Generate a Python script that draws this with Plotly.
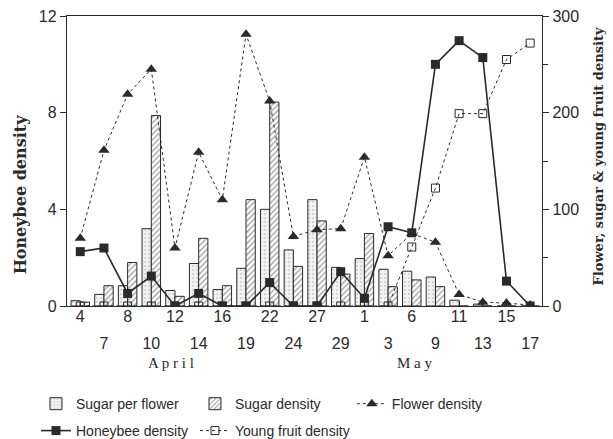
import plotly.graph_objects as go

# dates sampled (April 4 .. May 17)
dates = ["4", "7", "8", "10", "12", "14", "16", "19", "22", "24", "27", "29",
         "1", "3", "6", "9", "11", "13", "15", "17"]

# right axis units (0-300)
sugar_per_flower = [5.5, 12, 21, 80, 16, 44, 17, 39, 100, 58, 110, 40,
                    49, 38, 36, 30, 6, 2, 0, 0]
sugar_density = [4, 21, 45, 197, 10, 70, 21, 110, 211, 41, 88, 33,
                 75, 20, 27, 20, 0, 0, 0, 0]
flower_density = [70, 161, 219, 245, 60, 159, 110, 281, 212, 72, 79, 80,
                  154, 52, 75, 66, 12, 4, 3, 1]
young_fruit = [0, 0, 0, 0, 0, 0, 0, 0, 0, 0, 0, 0,
               0, 0, 61, 122, 199, 199, 255, 272]
# left axis units (0-12)
honeybee = [2.25, 2.4, 0.52, 1.24, 0, 0.52, 0, 0, 0.97, 0, 0, 1.42,
            0.32, 3.28, 3.03, 10.0, 10.98, 10.28, 1.03, 0]

# two rows of date labels: even positions on top row, odd on the lower one
idx = list(range(len(dates)))
row1 = [d if i % 2 == 0 else "" for i, d in enumerate(dates)]
row2 = [d if i % 2 == 1 else "" for i, d in enumerate(dates)]

INK = "#2a2a2a"
SANS = "Liberation Sans, Arial, sans-serif"
SERIF = "DejaVu Serif, serif"
XRANGE = [-0.56, 19.5]

fig = go.Figure()

fig.add_trace(go.Bar(
    x=idx, y=sugar_per_flower, name="Sugar per flower", yaxis="y",
    marker=dict(color="#ececec", line=dict(color=INK, width=1),
                pattern=dict(shape=".", fgcolor="#a8a8a8", bgcolor="#f2f2f2",
                             size=4, solidity=0.2)),
    legend="legend"))
fig.add_trace(go.Bar(
    x=idx, y=sugar_density, name="Sugar density", yaxis="y",
    marker=dict(color="white", line=dict(color=INK, width=1),
                pattern=dict(shape="/", fgcolor="#333333", bgcolor="white",
                             size=4, solidity=0.3)),
    legend="legend"))
fig.add_trace(go.Scatter(
    x=idx, y=flower_density, name="Flower density", yaxis="y",
    mode="lines+markers", line=dict(color=INK, width=1, dash="dot"),
    marker=dict(symbol="triangle-up", size=10, color=INK),
    legend="legend3"))
fig.add_trace(go.Scatter(
    x=idx, y=honeybee, name="Honeybee density", yaxis="y2",
    mode="lines+markers", line=dict(color=INK, width=1.6),
    marker=dict(symbol="square", size=9, color=INK),
    legend="legend2"))
# drawn on x2 so that the second row of date labels gets rendered
fig.add_trace(go.Scatter(
    x=idx, y=young_fruit, name="Young fruit density", xaxis="x2", yaxis="y",
    mode="lines+markers", line=dict(color=INK, width=1, dash="dot"),
    marker=dict(symbol="square-open", size=8, color=INK, line=dict(width=1)),
    legend="legend2"))

tickfont = dict(family=SANS, size=16, color=INK)
legfont = dict(family=SANS, size=14, color=INK)


def leg(x, y):
    return dict(orientation="h", xref="container", yref="container",
                x=x, xanchor="left", y=y, yanchor="top",
                entrywidth=114, entrywidthmode="pixels", traceorder="normal",
                font=legfont, bgcolor="rgba(0,0,0,0)")


fig.update_layout(
    width=613, height=439,
    margin=dict(l=67, r=71, t=16, b=133),
    paper_bgcolor="white", plot_bgcolor="white",
    barmode="group", bargap=0.22, bargroupgap=0,
    xaxis=dict(range=XRANGE, tickvals=idx, ticktext=row1, ticklabelstandoff=-4,
               ticks="inside", ticklen=5, tickcolor=INK, showline=True, linecolor=INK,
               linewidth=1.4, mirror=True, showgrid=False, zeroline=False,
               tickfont=tickfont, automargin=False),
    xaxis2=dict(overlaying="x", side="bottom", range=XRANGE, tickvals=idx, ticktext=row2,
                ticklabelstandoff=26, ticks="", showline=False, showgrid=False,
                zeroline=False, tickfont=tickfont, automargin=False),
    yaxis=dict(side="right", range=[0, 300], tickvals=[0, 100, 200, 300],
               ticks="outside", ticklen=6, tickcolor=INK, showline=True, linecolor=INK,
               linewidth=1.4, showgrid=False, zeroline=False, tickfont=tickfont,
               automargin=False,
               minor=dict(tickvals=[50, 150, 250], ticks="outside", ticklen=5, tickcolor=INK)),
    yaxis2=dict(side="left", overlaying="y", range=[0, 12], tickvals=[0, 4, 8, 12],
                ticks="outside", ticklen=6, tickcolor=INK, showline=True, linecolor=INK,
                linewidth=1.4, showgrid=False, zeroline=False, tickfont=tickfont,
                automargin=False),
    legend=leg(0.0587, 0.116),
    legend3=leg(0.574, 0.116),
    legend2=leg(0.0587, 0.0547),
    annotations=[
        dict(text="<b>Honeybee density</b>", x=-0.096, y=0.383, xref="paper", yref="paper",
             xanchor="center", yanchor="middle", textangle=-90, showarrow=False,
             font=dict(family=SERIF, size=16, color=INK)),
        dict(text="<b>Flower, sugar & young fruit density</b>", x=1.118, y=0.516,
             xref="paper", yref="paper", xanchor="center", yanchor="middle",
             textangle=-90, showarrow=False, font=dict(family=SERIF, size=13, color=INK)),
        dict(text="A p r i l", x=0.219, y=-0.198, xref="paper", yref="paper",
             xanchor="center", yanchor="middle", showarrow=False,
             font=dict(family="Liberation Serif, serif", size=15, color=INK)),
        dict(text="M a y", x=0.731, y=-0.198, xref="paper", yref="paper",
             xanchor="center", yanchor="middle", showarrow=False,
             font=dict(family="Liberation Serif, serif", size=15, color=INK)),
    ],
    showlegend=True,
)

# drop the page's default body margin so the figure sits at the window corner
fig.write_html("out.html", config={"displayModeBar": False},
               post_script="document.body.style.margin='0';")
